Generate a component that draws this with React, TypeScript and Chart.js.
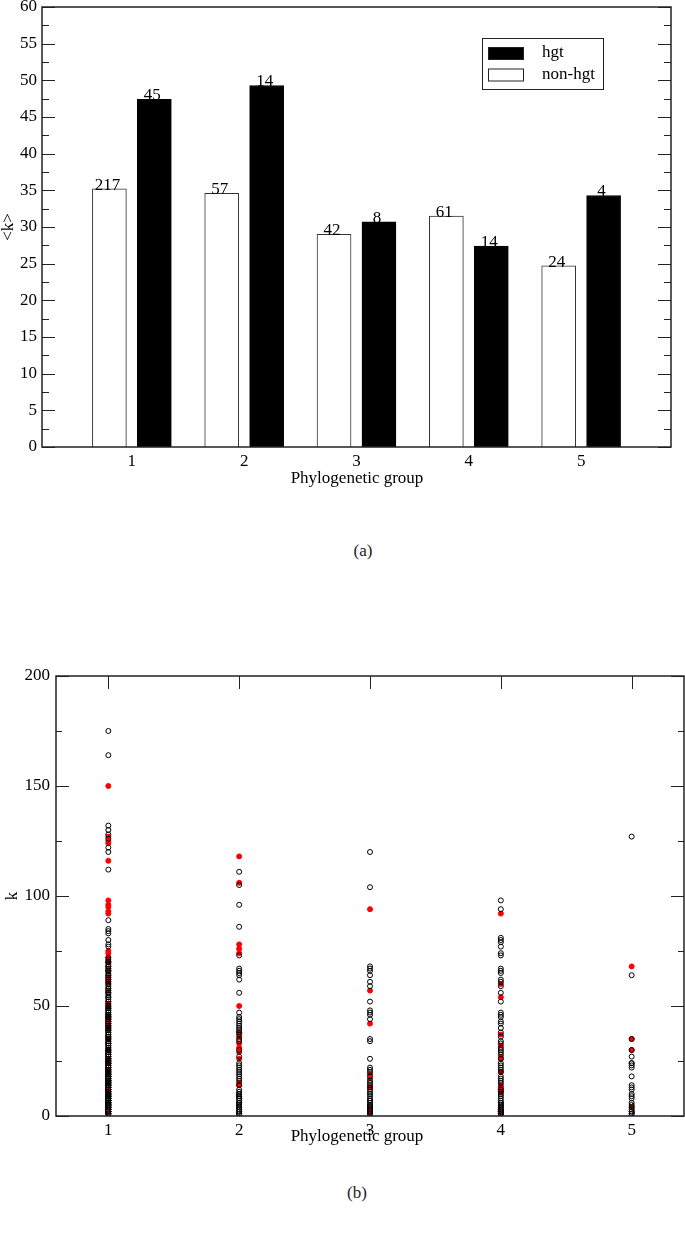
import React, { useEffect, useRef } from 'react';
import { Chart, registerables } from 'chart.js';

Chart.register(...registerables);

const SERIF = "'Liberation Serif', 'Times New Roman', serif";
const FS = 17;

// ---------- (a) bar chart ----------
const groups = [1, 2, 3, 4, 5];
const groupLabels = ['1', '2', '3', '4', '5'];
const seriesNames = ['hgt', 'non-hgt'];
const xTitle = 'Phylogenetic group';
const hgtMean = [47.4, 49.3, 30.7, 27.4, 34.3];
const nonHgtMean = [35.2, 34.6, 29.0, 31.5, 24.7];
const hgtCount = ['45', '14', '8', '14', '4'];
const nonHgtCount = ['217', '57', '42', '61', '24'];

// ---------- (b) scatter: k per gene, by phylogenetic group ----------
const kNonHgtG1 = [
  175, 164, 132, 130, 128, 126, 122, 120, 112, 89, 85, 84, 83, 80, 78, 77, 72,
  71, 70, 69, 68, 67, 66, 65, 64, 63, 62, 61, 60, 59, 58, 57, 56, 55, 54, 53, 52,
  51, 50, 49, 48, 47, 46, 45, 44, 43, 42, 41, 40, 39, 38, 37, 36, 35, 34, 33, 32,
  31, 30, 29, 28, 27, 26, 25, 24, 23, 22, 21, 20, 19, 18, 17, 16, 15, 14, 13, 12,
  11, 10, 9, 8, 7, 6, 5, 4, 3, 2, 1, 1, 2, 3, 4, 5, 6, 7, 8, 9,
  10, 11, 12, 13, 14, 15, 16, 17, 18, 19, 20, 21, 22, 23, 24, 25, 26, 27, 28, 29,
  30, 31, 32, 33, 34, 35, 36, 37, 38, 39, 40, 41, 42, 43, 44, 45, 46, 47, 48, 49,
  50, 52, 54, 56, 58, 60, 62, 64, 66, 68, 70, 2, 3, 4, 5, 6, 7, 8, 9, 10,
  11, 12, 13, 14, 15, 16, 17, 18, 19, 20, 21, 22, 23, 24, 25, 26, 27, 28, 29, 30,
  1, 2, 3, 4, 5, 6, 7, 8, 9, 10, 11, 12, 13, 14, 15, 16, 17, 18, 19, 20,
  1, 2, 3, 4, 5, 6, 7, 8, 9, 10, 12, 14, 16, 18, 22, 24, 33, 36, 41, 45,
];
const kHgtG1 = [
  150, 127, 125, 124, 116, 98, 96, 95, 93, 92, 75, 74, 72, 70, 67, 66, 63, 61, 57, 51,
  49, 46, 45, 44, 43, 42, 40, 39, 35, 30, 26, 25, 24, 21, 19, 18, 17, 15, 12, 9,
  7, 5, 4, 3, 2,
];
const kNonHgtG2 = [
  111, 105, 96, 86, 73, 67, 66, 65, 62, 56, 45, 44, 43, 42, 41, 40, 39, 38, 37, 35,
  34, 30, 27, 23, 22, 21, 20, 19, 18, 17, 16, 12, 11, 10, 10, 9, 9, 8, 8, 7,
  6, 6, 5, 5, 4, 4, 3, 3, 2, 2, 1, 1, 1, 14, 24, 47, 64,
];
const kHgtG2 = [118, 106, 78, 76, 74, 50, 38, 36, 33, 31, 29, 26, 15, 14];
const kNonHgtG3 = [
  120, 104, 68, 67, 66, 64, 61, 59, 52, 48, 47, 46, 44, 35, 34, 26, 22, 20, 18, 16,
  14, 13, 12, 11, 10, 9, 8, 7, 7, 6, 5, 5, 4, 4, 3, 3, 2, 2, 1, 1, 15, 21,
];
const kHgtG3 = [94, 57, 42, 19, 17, 13, 3, 1];
const kNonHgtG4 = [
  98, 94, 81, 80, 79, 77, 74, 73, 67, 66, 65, 62, 59, 52, 47, 46, 45, 43, 42, 40,
  36, 34, 31, 30, 29, 24, 23, 22, 21, 18, 17, 15, 13, 12, 10, 9, 8, 7, 6, 5,
  5, 4, 4, 3, 3, 2, 2, 1, 1, 1, 33, 38, 56, 61, 28, 20, 26, 16, 11, 6, 2,
];
const kHgtG4 = [92, 60, 54, 37, 32, 27, 26, 20, 14, 12, 11, 3, 2, 1];
const kNonHgtG5 = [127, 64, 35, 30, 27, 24, 23, 22, 18, 14, 12, 10, 8, 6, 5, 4, 3, 2, 2, 1, 1, 24, 13, 9];
const kHgtG5 = [68, 35, 30, 4];

const kNonHgt = [kNonHgtG1, kNonHgtG2, kNonHgtG3, kNonHgtG4, kNonHgtG5];
const kHgt = [kHgtG1, kHgtG2, kHgtG3, kHgtG4, kHgtG5];

Chart.defaults.font.family = SERIF;
Chart.defaults.font.size = FS;
Chart.defaults.color = '#000';

type FrameOpts = { yMajor: number; yMinor: number; xTicks: boolean; majorLen: number; minorLen: number };

function framePlugin(o: FrameOpts) {
  return {
    id: 'frameTicks',
    afterDatasetsDraw(chart: any) {
      const { ctx, chartArea } = chart;
      const { left, right, top, bottom } = chartArea;
      const ys = chart.scales.y;
      const xs = chart.scales.x;
      ctx.save();
      ctx.strokeStyle = '#222';
      ctx.lineWidth = 1;
      ctx.beginPath();
      const n = Math.round((ys.max - ys.min) / o.yMinor);
      for (let i = 0; i <= n; i++) {
        const v = ys.min + i * o.yMinor;
        const p = Math.round(ys.getPixelForValue(v)) + 0.5;
        const r = v / o.yMajor;
        const major = Math.abs(r - Math.round(r)) < 1e-6;
        const len = major ? o.majorLen : o.minorLen;
        ctx.moveTo(left, p);
        ctx.lineTo(left + len, p);
        ctx.moveTo(right, p);
        ctx.lineTo(right - len, p);
      }
      if (o.xTicks) {
        xs.ticks.forEach((t: any) => {
          const p = Math.round(xs.getPixelForValue(t.value)) + 0.5;
          ctx.moveTo(p, top);
          ctx.lineTo(p, top + o.majorLen);
          ctx.moveTo(p, bottom);
          ctx.lineTo(p, bottom - o.majorLen);
        });
      }
      ctx.stroke();
      ctx.lineWidth = 1.5;
      ctx.strokeRect(left, top, right - left, bottom - top);
      ctx.restore();
    },
  };
}

// x-axis title drawn at a given canvas x / y (centre)
function xTitlePlugin(cx: number, cy: number) {
  return {
    id: 'xTitle',
    afterDraw(chart: any) {
      const { ctx } = chart;
      ctx.save();
      ctx.font = `${FS}px ${SERIF}`;
      ctx.fillStyle = '#000';
      ctx.textAlign = 'center';
      ctx.textBaseline = 'middle';
      ctx.fillText(xTitle, cx, cy);
      ctx.restore();
    },
  };
}

const barLabelPlugin = {
  id: 'barLabels',
  afterDatasetsDraw(chart: any) {
    const { ctx } = chart;
    ctx.save();
    ctx.font = `${FS}px ${SERIF}`;
    ctx.fillStyle = '#000';
    ctx.textAlign = 'center';
    ctx.textBaseline = 'alphabetic';
    chart.data.datasets.forEach((ds: any, di: number) => {
      const meta = chart.getDatasetMeta(di);
      meta.data.forEach((bar: any, i: number) => {
        ctx.fillText(ds.counts[i], bar.x - 2, bar.y + 1);
      });
    });
    ctx.restore();
  },
};

const legendPlugin = {
  id: 'boxLegend',
  afterDraw(chart: any) {
    const { ctx, chartArea } = chart;
    const bx = chartArea.left + 440;
    const by = chartArea.top + 31;
    ctx.save();
    ctx.fillStyle = '#fff';
    ctx.fillRect(bx, by, 121, 51);
    ctx.strokeStyle = '#222';
    ctx.lineWidth = 1;
    ctx.strokeRect(bx + 0.5, by + 0.5, 121, 51);
    ctx.font = `${FS}px ${SERIF}`;
    ctx.textBaseline = 'middle';
    ctx.textAlign = 'left';
    const order = [1, 0]; // hgt first, then non-hgt
    order.forEach((di, row) => {
      const ds = chart.data.datasets[di];
      const sy = by + 9 + row * 21.5;
      ctx.fillStyle = ds.backgroundColor;
      ctx.fillRect(bx + 6, sy, 35, 12);
      ctx.strokeStyle = '#222';
      ctx.strokeRect(bx + 6.5, sy + 0.5, 35, 12);
      ctx.fillStyle = '#000';
      ctx.fillText(ds.label, bx + 60, sy + 6);
    });
    ctx.restore();
  },
};

function BarChart() {
  const ref = useRef<HTMLCanvasElement>(null);
  useEffect(() => {
    const chart = new Chart(ref.current as HTMLCanvasElement, {
      type: 'bar',
      data: {
        datasets: [
          {
            label: seriesNames[1],
            data: groups.map((g, i) => ({ x: g - 0.2, y: nonHgtMean[i] })),
            backgroundColor: '#ffffff',
            borderColor: '#333',
            borderWidth: 1,
            counts: nonHgtCount,
          } as any,
          {
            label: seriesNames[0],
            data: groups.map((g, i) => ({ x: g + 0.2, y: hgtMean[i] })),
            backgroundColor: '#000000',
            borderColor: '#000',
            borderWidth: 1,
            counts: hgtCount,
          } as any,
        ],
      },
      options: {
        responsive: false,
        maintainAspectRatio: false,
        animation: false,
        layout: { autoPadding: false, padding: { left: 0, right: 14, top: 7, bottom: 0 } },
        datasets: { bar: { grouped: false, barThickness: 34 } },
        plugins: { legend: { display: false }, tooltip: { enabled: false } },
        scales: {
          x: {
            type: 'linear',
            min: 0.2,
            max: 5.8,
            offset: false,
            grid: { display: false, drawTicks: false, offset: false },
            border: { display: false },
            afterBuildTicks: (axis: any) => {
              axis.ticks = groups.map((v) => ({ value: v }));
            },
            afterFit: (s: any) => {
              s.height = 53;
              s.paddingLeft = 0;
              s.paddingRight = 0;
            },
            ticks: {
              padding: 4,
              maxRotation: 0,
              callback: (_v: any, i: number) => groupLabels[i],
              font: { size: FS, family: SERIF },
            },
            title: { display: false },
          },
          y: {
            min: 0,
            max: 60,
            grid: { display: false, drawTicks: false },
            border: { display: false },
            afterFit: (s: any) => {
              s.width = 42;
              s.paddingTop = 0;
              s.paddingBottom = 0;
            },
            ticks: { stepSize: 5, padding: 5, font: { size: FS, family: SERIF } },
            title: {
              display: true,
              text: '<k>',
              font: { size: FS, family: SERIF, lineHeight: 1 },
              padding: 0,
            },
          },
        } as any,
      },
      plugins: [
        framePlugin({ yMajor: 5, yMinor: 2.5, xTicks: false, majorLen: 13, minorLen: 7 }),
        barLabelPlugin,
        legendPlugin,
        xTitlePlugin(357, 479),
      ],
    });
    return () => chart.destroy();
  }, []);
  return (
    <canvas
      ref={ref}
      width={685}
      height={500}
      style={{ position: 'absolute', left: 0, top: 0, width: 685, height: 500 }}
    />
  );
}

function ScatterChart() {
  const ref = useRef<HTMLCanvasElement>(null);
  useEffect(() => {
    const toPts = (lists: number[][]) =>
      lists.flatMap((list, gi) => list.map((k) => ({ x: groups[gi], y: k })));
    const chart = new Chart(ref.current as HTMLCanvasElement, {
      type: 'scatter',
      data: {
        datasets: [
          {
            label: seriesNames[1],
            data: toPts(kNonHgt),
            pointStyle: 'circle',
            pointRadius: 2.5,
            borderWidth: 1,
            borderColor: '#000',
            backgroundColor: 'rgba(0,0,0,0)',
          },
          {
            label: seriesNames[0],
            data: toPts(kHgt),
            pointStyle: 'circle',
            pointRadius: 2.5,
            borderWidth: 1,
            borderColor: '#ff0000',
            backgroundColor: '#ff0000',
          },
        ],
      },
      options: {
        responsive: false,
        maintainAspectRatio: false,
        animation: false,
        layout: { autoPadding: false, padding: { left: 0, right: 1, top: 76, bottom: 0 } },
        plugins: { legend: { display: false }, tooltip: { enabled: false } },
        scales: {
          x: {
            type: 'linear',
            min: 0.6,
            max: 5.4,
            offset: false,
            grid: { display: false, drawTicks: false },
            border: { display: false },
            afterBuildTicks: (axis: any) => {
              axis.ticks = groups.map((v) => ({ value: v }));
            },
            afterFit: (s: any) => {
              s.height = 44;
              s.paddingLeft = 0;
              s.paddingRight = 0;
            },
            ticks: {
              padding: 4,
              maxRotation: 0,
              callback: (_v: any, i: number) => groupLabels[i],
              font: { size: FS, family: SERIF },
            },
            title: { display: false },
          },
          y: {
            min: 0,
            max: 200,
            grid: { display: false, drawTicks: false },
            border: { display: false },
            afterFit: (s: any) => {
              s.width = 56;
              s.paddingTop = 0;
              s.paddingBottom = 0;
            },
            ticks: { stepSize: 50, padding: 6, font: { size: FS, family: SERIF } },
            title: {
              display: true,
              text: 'k',
              font: { size: FS, family: SERIF, lineHeight: 1 },
              padding: { top: 4, bottom: 0 },
            },
          },
        } as any,
      },
      plugins: [
        framePlugin({ yMajor: 50, yMinor: 25, xTicks: true, majorLen: 13, minorLen: 6 }),
        xTitlePlugin(357, 537),
      ],
    });
    return () => chart.destroy();
  }, []);
  return (
    <canvas
      ref={ref}
      width={685}
      height={560}
      style={{ position: 'absolute', left: 0, top: 600, width: 685, height: 560 }}
    />
  );
}

export default function App() {
  const cap: React.CSSProperties = {
    position: 'absolute',
    width: 60,
    textAlign: 'center',
    fontFamily: SERIF,
    fontSize: 17,
    color: '#222',
  };
  return (
    <div style={{ position: 'absolute', left: 0, top: 0, width: 685, height: 1233, background: '#fff' }}>
      <BarChart />
      <div style={{ ...cap, left: 333, top: 541 }}>(a)</div>
      <ScatterChart />
      <div style={{ ...cap, left: 327, top: 1183 }}>(b)</div>
    </div>
  );
}
